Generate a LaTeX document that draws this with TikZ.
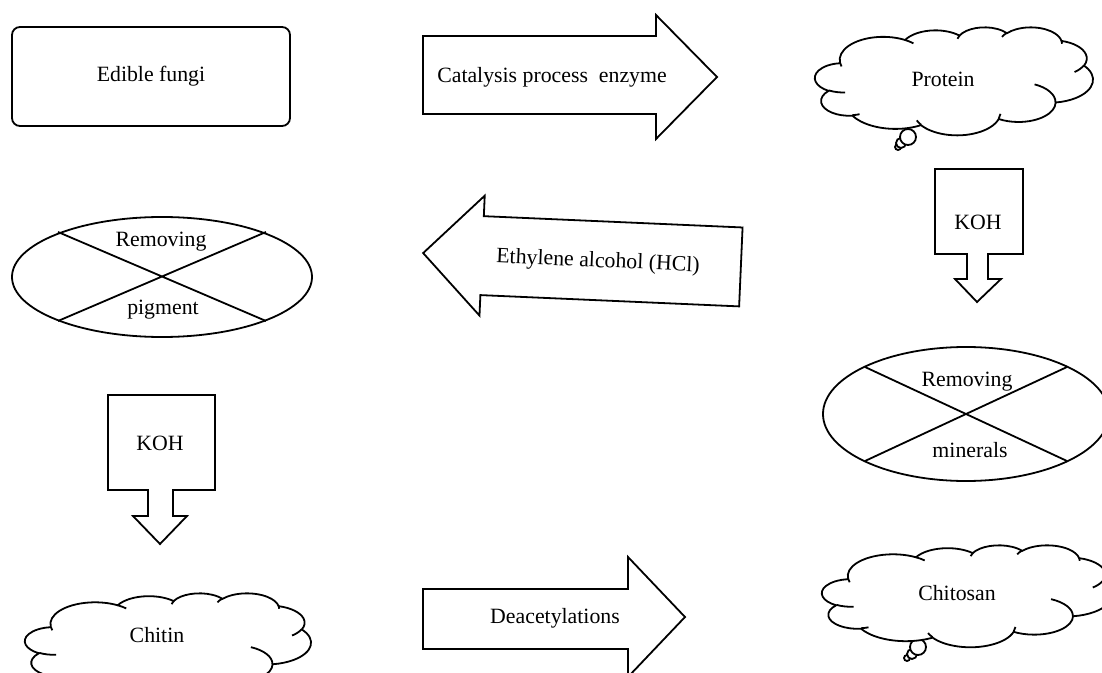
\documentclass[tikz,border=0pt]{standalone}
\usepackage{fontspec}
\setmainfont{Liberation Serif}
\tikzset{
  outl/.style={draw=black, line width=0.9pt, line join=miter},
  lbl/.style={font=\fontsize{10.9}{13}\selectfont, inner sep=0pt},
  bubble/.style={draw=black, fill=white, line width=0.9pt},
  oa/.style n args={4}{x radius=#1, y radius=#2,
    start angle={atan2((#1)*sin(#3),(#2)*cos(#3))},
    delta angle={mod(atan2((#1)*sin(#3+#4),(#2)*cos(#3+#4))-atan2((#1)*sin(#3),(#2)*cos(#3))+720,360)}}
}
% cloud outline in a 4320 x 4320 box placed at (#1,#2) with size #3 x #4 (pixels)
\newcommand\wcloud[4]{%
  \pgfmathsetmacro\wcx{#3/8640}%
  \pgfmathsetmacro\wcy{-#4/8640}%
  \begin{scope}[shift={(#1,#2)}, x=\wcx pt, y=\wcy pt]
  \draw[outl, fill=white] (390,1437)
    arc[oa={675.3}{919.0}{-190.4875}{123.7805}]
    arc[oa={533.3}{726.7}{-144.1024}{89.9452}]
    arc[oa={436.5}{594.5}{-145.8079}{99.7230}]
    arc[oa={485.7}{659.5}{-130.9861}{117.2417}]
    arc[oa={533.3}{727.3}{-78.7089}{109.0269}]
    arc[oa={677.5}{922.0}{-46.2673}{130.2690}]
    arc[oa={578.5}{786.7}{0.6250}{114.0333}]
    arc[oa={675.2}{921.5}{22.4516}{115.1726}]
    arc[oa={772.0}{1054.3}{66.2426}{75.7110}]
    arc[oa={436.0}{591.8}{-274.9421}{146.7356}]
    arc[oa={434.5}{594.5}{-246.8285}{152.5189}] -- cycle;
  \draw[outl]
    (469.3,2617.7) arc[oa={434.5}{594.5}{86.7420}{26.4295}]
    (692.8,3489.9) arc[oa={436.0}{591.8}{73.6105}{11.4475}]
    (1647.8,3909.0) arc[oa={675.2}{921.5}{137.6242}{14.0811}]
    (2882.7,3475.1) arc[oa={675.2}{921.5}{6.4533}{15.9984}]
    (3412.9,2295.4) arc[oa={578.5}{786.7}{-70.2924}{70.9174}]
    (4179.8,1535.4) arc[oa={533.3}{727.3}{30.3180}{27.7515}]
    (3832.4,542.6) arc[oa={485.7}{659.5}{-13.7443}{14.8593}]
    (2907.8,395.2) arc[oa={485.7}{659.5}{-149.1815}{18.1985}]
    (2214.1,472.0) arc[oa={436.5}{594.5}{-163.4943}{17.6942}]
    (1400.0,519.2) arc[oa={675.3}{919.0}{-66.7070}{12.3194}]
    (412.7,1578.9) arc[oa={675.3}{919.0}{157.6544}{11.8582}];
  \end{scope}}
\begin{document}
\begin{tikzpicture}[x=0.5pt, y=-0.5pt]
\useasboundingbox (0,0) rectangle (1102,673);
\clip (0,0) rectangle (1102,673);

% Edible fungi
\node[outl, rounded corners=4pt, minimum width=139pt, minimum height=49.5pt, lbl]
  (fungi) at (151,76.5) {Edible fungi};

% Catalysis arrow
\draw[outl] (423,36) -- (656,36) -- (656,15) -- (717,77) -- (656,139) -- (656,114) -- (423,114) -- cycle;
\node[lbl] (catal) at (552,77) {Catalysis process\ \ enzyme};

% Protein cloud
\draw[bubble] (898,147) circle (3);
\draw[bubble] (901,143) circle (5);
\draw[bubble] (908,137) circle (8);
\wcloud{815}{27}{278}{108}
\node[lbl] (protein) at (943,79) {Protein};

% KOH right
\draw[outl] (935,169) -- (1023,169) -- (1023,254) -- (988,254) -- (988,279) -- (1001,279)
  -- (977,302) -- (955,279) -- (967,279) -- (967,254) -- (935,254) -- cycle;
\node[lbl] (kohr) at (978,222) {KOH};

% Ethylene arrow
\begin{scope}[rotate around={-2.5:(582,260)}]
\draw[outl] (423,260) -- (482,200) -- (482,220.5) -- (741,220.5) -- (741,299.5)
  -- (482,299.5) -- (482,320) -- cycle;
\end{scope}
\node[lbl, rotate=-2.5] (ethyl) at (598,262) {Ethylene alcohol (HCl)};

% Removing pigment ellipse
\draw[outl] (162,277) ellipse [x radius=150, y radius=60];
\coordinate (p1) at (58,232); \coordinate (p2) at (266,321);
\coordinate (p3) at (266,232); \coordinate (p4) at (58,321);
\draw[outl] (p1) -- (p2) (p3) -- (p4);
\node[lbl] (rem1) at (161,242) {Removing};
\node[lbl] (pig) at (163,310) {pigment};

% Removing minerals ellipse
\draw[outl] (966,414) ellipse [x radius=143, y radius=67];
\coordinate (m1) at (865,367); \coordinate (m2) at (1067,461);
\coordinate (m3) at (1067,367); \coordinate (m4) at (865,461);
\draw[outl] (m1) -- (m2) (m3) -- (m4);
\node[lbl] (rem2) at (967,382) {Removing};
\node[lbl] (mine) at (970,450) {minerals};

% KOH left
\draw[outl] (108,395) -- (215,395) -- (215,490) -- (173,490) -- (173,516) -- (187,516)
  -- (160,544) -- (133,516) -- (148,516) -- (148,490) -- (108,490) -- cycle;
\node[lbl] (kohl) at (160,443) {KOH};

% Deacetylations arrow
\draw[outl] (423,589) -- (628,589) -- (628,557) -- (685,617) -- (628,677) -- (628,649) -- (423,649) -- cycle;
\node[lbl] (deac) at (555,618) {Deacetylations};

% Chitin cloud
\wcloud{25}{593}{286}{102}
\node[lbl] (chitin) at (157,635) {Chitin};

% Chitosan cloud
\draw[bubble] (907,658) circle (3);
\draw[bubble] (912,654) circle (5);
\draw[bubble] (918,647) circle (8);
\wcloud{822}{545}{290}{102}
\node[lbl] (chitosan) at (957,593) {Chitosan};
\end{tikzpicture}
\end{document}
